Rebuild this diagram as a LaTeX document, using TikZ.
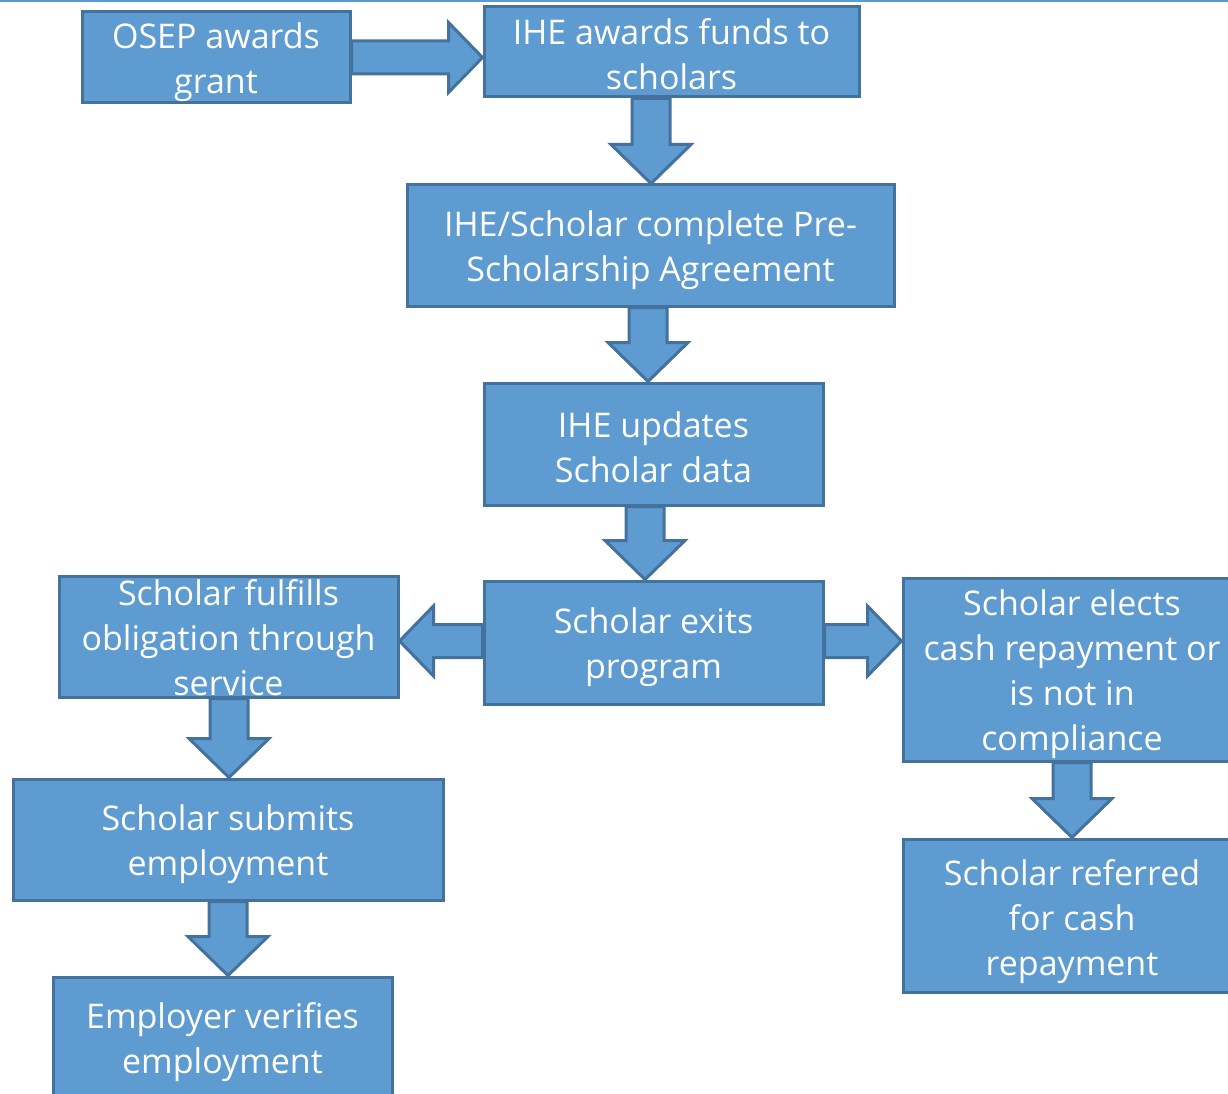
\documentclass[tikz,border=0pt]{standalone}
\usepackage{fontspec}
\setmainfont{Open Sans}
\usetikzlibrary{calc}
\definecolor{boxfill}{HTML}{5E9BD1}
\definecolor{boxline}{HTML}{44729D}
\definecolor{topline}{HTML}{5B9BD5}
\tikzset{
  flowbox/.style={draw=boxline, fill=boxfill, line width=3pt, inner sep=0pt},
  flowtxt/.style={text=white, align=center, inner sep=0pt, font=\fontsize{34}{45}\selectfont},
  blockarrow/.style={draw=boxline, fill=boxfill, line width=3pt, line join=miter}
}
% vertical block arrow: from node #1 (south) to node #2 (north) at x = #3
\newcommand\vblockarrow[3]{%
  \path[blockarrow] let \p1=(#1.south), \p2=(#2.north) in
    ({#3pt-19pt},\y1) -- ({#3pt-19pt},{\y2+39pt}) -- ({#3pt-40pt},{\y2+39pt}) --
    ({#3pt},\y2) -- ({#3pt+40pt},{\y2+39pt}) -- ({#3pt+19pt},{\y2+39pt}) --
    ({#3pt+19pt},\y1) -- cycle;}
% rightward block arrow: from node #1 (east) to node #2 (west) at y = -#3
\newcommand\rblockarrow[3]{%
  \path[blockarrow] let \p1=(#1.east), \p2=(#2.west) in
    (\x1,{-#3pt+16.5pt}) -- ({\x2-34pt},{-#3pt+16.5pt}) -- ({\x2-34pt},{-#3pt+35pt}) --
    (\x2,{-#3pt}) -- ({\x2-34pt},{-#3pt-35pt}) -- ({\x2-34pt},{-#3pt-16.5pt}) --
    (\x1,{-#3pt-16.5pt}) -- cycle;}
% leftward block arrow: from node #1 (west) to node #2 (east) at y = -#3
\newcommand\lblockarrow[3]{%
  \path[blockarrow] let \p1=(#1.west), \p2=(#2.east) in
    (\x1,{-#3pt+16.5pt}) -- ({\x2+34pt},{-#3pt+16.5pt}) -- ({\x2+34pt},{-#3pt+35pt}) --
    (\x2,{-#3pt}) -- ({\x2+34pt},{-#3pt-35pt}) -- ({\x2+34pt},{-#3pt-16.5pt}) --
    (\x1,{-#3pt-16.5pt}) -- cycle;}
\begin{document}
\begin{tikzpicture}[x=1pt,y=1pt]
\useasboundingbox (0,0) rectangle (1228,-1094);
\clip (0,0) rectangle (1228,-1094);
\fill[white] (0,0) rectangle (1228,-1094);
\draw[topline, line width=2pt] (0,-1) -- (1228,-1);

\node[flowbox, minimum width=268, minimum height=91] (osep) at (216,-57.5) {};
\node[flowbox, minimum width=375, minimum height=90] (ihe) at (671.5,-52) {};
\node[flowbox, minimum width=487, minimum height=121] (pre) at (650.5,-245.5) {};
\node[flowbox, minimum width=339, minimum height=122] (upd) at (653.5,-444) {};
\node[flowbox, minimum width=339, minimum height=123] (exits) at (653.5,-642.5) {};
\node[flowbox, minimum width=339, minimum height=121] (fulfill) at (228.5,-636.5) {};
\node[flowbox, minimum width=430, minimum height=121] (submit) at (228,-839.5) {};
\node[flowbox, minimum width=339, minimum height=126] (employer) at (222.5,-1040) {};
\node[flowbox, minimum width=338, minimum height=183] (elects) at (1072,-669.5) {};
\node[flowbox, minimum width=338, minimum height=153] (referred) at (1072,-915.5) {};

\node[flowtxt] (osept) at ([yshift=-5pt]osep.center) {OSEP awards\\grant};
\node[flowtxt] (ihet) at ([yshift=-2pt]ihe.center) {IHE awards funds to\\scholars};
\node[flowtxt] (pret) at ([yshift=-5pt]pre.center) {IHE/Scholar complete Pre-\\Scholarship Agreement};
\node[flowtxt] (updt) at ([yshift=-3pt]upd.center) {IHE updates\\Scholar data};
\node[flowtxt] (exitst) at ([yshift=-5pt]exits.center) {Scholar exits\\program};
\node[flowtxt] (fulfillt) at ([yshift=-1pt]fulfill.center) {Scholar fulfills\\obligation through\\service};
\node[flowtxt] (submitt) at ([yshift=-5pt]submit.center) {Scholar submits\\employment};
\node[flowtxt] (employert) at ([yshift=-2pt]employer.center) {Employer verifies\\employment};
\node[flowtxt] (electst) at ([yshift=-5pt]elects.center) {Scholar elects\\cash repayment or\\is not in\\compliance};
\node[flowtxt] (referredt) at ([yshift=-6pt]referred.center) {Scholar referred\\for cash\\repayment};

\rblockarrow{osep}{ihe}{57.5}
\vblockarrow{ihe}{pre}{651}
\vblockarrow{pre}{upd}{648}
\vblockarrow{upd}{exits}{645}
\lblockarrow{exits}{fulfill}{641}
\rblockarrow{exits}{elects}{641}
\vblockarrow{fulfill}{submit}{229}
\vblockarrow{submit}{employer}{228}
\vblockarrow{elects}{referred}{1072}
\end{tikzpicture}
\end{document}
